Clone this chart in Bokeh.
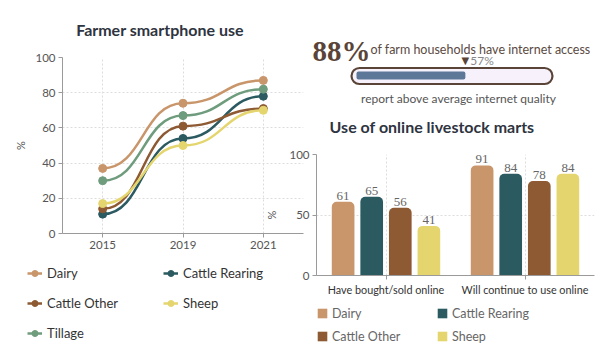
from bokeh.plotting import figure
from bokeh.models import (ColumnDataSource, Range1d, FactorRange, FixedTicker, Legend,
                          LegendItem, Label, LabelSet)
from bokeh.transform import dodge
from bokeh.embed import file_html
from bokeh.resources import INLINE

# ---------------- data ----------------
years = ["2015", "2019", "2021"]
dairy = [37, 74, 87]
cattle_rearing = [11, 54, 78]
cattle_other = [14, 61, 71]
sheep = [17, 50, 70]
tillage = [30, 67, 82]

bar_categories = ["Have bought/sold online", "Will continue to use online"]
bar_dairy = [61, 91]
bar_cattle_rearing = [65, 84]
bar_cattle_other = [56, 78]
bar_sheep = [41, 84]

internet_access = 88
above_avg_quality = 57

y_ticks_left = [0, 20, 40, 60, 80, 100]
y_ticks_bar = [0, 50, 100]

C_DAIRY = "#c9956a"
C_REAR = "#2b5a61"
C_OTHER = "#8d5a33"
C_SHEEP = "#e5d56f"
C_TILL = "#6e9c7c"

FONT = "Lato"
AXIS_C = "#9a9a9a"
TICK_TXT = "#555555"
GRID_C = "#dddddd"
TITLE_C = "#2e3440"
W, H = 614, 346


def place(fig, left, top):
    fig.styles = {"position": "absolute", "left": f"{left}px", "top": f"{top}px"}


def style_axes(fig):
    for ax in (fig.xaxis, fig.yaxis):
        ax.axis_line_color = AXIS_C
        ax.major_tick_line_color = AXIS_C
        ax.minor_tick_line_color = None
        ax.major_tick_in = 0
        ax.major_tick_out = 4
        ax.major_label_standoff = 3
        ax.major_label_text_font = FONT
        ax.major_label_text_font_size = "11.5px"
        ax.major_label_text_color = TICK_TXT
        ax.axis_label_text_font = FONT
        ax.axis_label_text_font_size = "11px"
        ax.axis_label_text_font_style = "normal"
        ax.axis_label_text_color = TICK_TXT
        ax.axis_label_standoff = 8
    for g in (fig.xgrid, fig.ygrid):
        g.grid_line_color = GRID_C
        g.grid_line_dash = "2 2"


# ---------------- left line chart ----------------
L_W, L_H = 307, 346
FL, FR, FT, FB = 62, 303, 57, 233          # frame edges in page pixels
n_years = len(years)
p1 = figure(width=L_W, height=L_H, x_range=Range1d(0, n_years), y_range=Range1d(0, 100),
            min_border_left=FL, min_border_right=L_W - FR, min_border_top=FT,
            min_border_bottom=L_H - FB, toolbar_location=None, output_backend="svg",
            outline_line_color=None, title=None)
place(p1, 0, 0)

xs = [i + 0.5 for i in range(n_years)]
series = [("Dairy", dairy, C_DAIRY), ("Cattle Rearing", cattle_rearing, C_REAR),
          ("Cattle Other", cattle_other, C_OTHER), ("Sheep", sheep, C_SHEEP),
          ("Tillage", tillage, C_TILL)]
for name, vals, col in series:
    mids = [(a + b) / 2 for a, b in zip(xs[:-1], xs[1:])]
    seg = ColumnDataSource(dict(x0=xs[:-1], y0=vals[:-1], x1=xs[1:], y1=vals[1:],
                                cx0=mids, cy0=vals[:-1], cx1=mids, cy1=vals[1:]))
    p1.bezier(x0="x0", y0="y0", x1="x1", y1="y1", cx0="cx0", cy0="cy0",
              cx1="cx1", cy1="cy1", source=seg, line_color=col, line_width=2.5)
    p1.scatter(xs, vals, size=8, fill_color=col, line_color=col)

p1.xaxis.ticker = FixedTicker(ticks=xs)
p1.xaxis.major_label_overrides = {x: y for x, y in zip(xs, years)}
p1.yaxis.ticker = FixedTicker(ticks=y_ticks_left)
p1.yaxis.axis_label = "%"
style_axes(p1)
p1.yaxis.axis_label_standoff = 5
p1.xgrid.ticker = FixedTicker(ticks=xs)
p1.ygrid.ticker = FixedTicker(ticks=y_ticks_left)

# ---------------- bar chart ----------------
B_X0, B_Y0 = 262, 108
B_W, B_H = W - B_X0, H - B_Y0
BFL, BFR, BFT, BFB = 312, 594, 154, 275
p3 = figure(width=B_W, height=B_H, x_range=FactorRange(*bar_categories, range_padding=0),
            y_range=Range1d(0, 100), min_border_left=BFL - B_X0, min_border_right=W - BFR,
            min_border_top=BFT - B_Y0, min_border_bottom=H - BFB, toolbar_location=None,
            output_backend="svg", outline_line_color=None, title=None,
            background_fill_color=None, border_fill_color=None)
place(p3, B_X0, B_Y0)
sx3 = (BFR - BFL) / len(bar_categories)
bsrc = ColumnDataSource(dict(cat=bar_categories, dairy=bar_dairy, rear=bar_cattle_rearing,
                             other=bar_cattle_other, sheep=bar_sheep,
                             dairy_t=[str(v) for v in bar_dairy],
                             rear_t=[str(v) for v in bar_cattle_rearing],
                             other_t=[str(v) for v in bar_cattle_other],
                             sheep_t=[str(v) for v in bar_sheep]))
bar_series = [("Dairy", "dairy", C_DAIRY), ("Cattle Rearing", "rear", C_REAR),
              ("Cattle Other", "other", C_OTHER), ("Sheep", "sheep", C_SHEEP)]
step = 29 / sx3
bw = 23 / sx3
for i, (name, fld, col) in enumerate(bar_series):
    off = (i - 1.5) * step
    p3.vbar(x=dodge("cat", off, range=p3.x_range), top=fld, width=bw, source=bsrc,
            fill_color=col, line_color=None, border_radius=(5, 5, 0, 0))
    p3.add_layout(LabelSet(x=dodge("cat", off, range=p3.x_range), y=fld, text=fld + "_t",
                           source=bsrc, y_offset=2, text_align="center",
                           text_baseline="bottom", text_font=FONT, text_font_size="13px",
                           text_color="#666666"))

p3.yaxis.ticker = FixedTicker(ticks=y_ticks_bar)
p3.yaxis.axis_label = "%"
style_axes(p3)
p3.xaxis.major_label_text_font_size = "10.8px"
p3.xaxis.major_label_text_color = "#333333"
p3.ygrid.ticker = FixedTicker(ticks=y_ticks_bar)

# ---------------- overlay: titles, info panel, legends ----------------
ov = figure(width=W, height=H, x_range=Range1d(0, W), y_range=Range1d(H, 0),
            x_axis_type=None, y_axis_type=None, min_border=0, toolbar_location=None,
            output_backend="svg", title=None, outline_line_color=None,
            background_fill_color=None, border_fill_color=None)
place(ov, 0, 0)

ov.add_layout(Label(x=159.5, y=29, text="Farmer smartphone use", text_font=FONT,
                    text_font_size="16px", text_font_style="bold", text_color=TITLE_C,
                    text_align="center", text_baseline="middle"))
ov.add_layout(Label(x=431.5, y=126, text="Use of online livestock marts", text_font=FONT,
                    text_font_size="16px", text_font_style="bold", text_color=TITLE_C,
                    text_align="center", text_baseline="middle"))

# internet access panel
TRACK_L, TRACK_R = 356, 547
tw = (TRACK_R - TRACK_L) / 100.0
ov.extra_x_ranges = {"pct": Range1d(start=-TRACK_L / tw, end=(W - TRACK_L) / tw)}
pad = 5 / tw
ov.quad(left=[0 - pad], right=[100 + pad], top=[67.5], bottom=[83.5], x_range_name="pct",
        fill_color="#f6f1fb", line_color="#5a4438", line_width=2.2, border_radius=8)
ov.quad(left=[0], right=[above_avg_quality], top=[71], bottom=[79], x_range_name="pct",
        fill_color="#5d7798", line_color=None, border_radius=2)
ov.add_layout(Label(x=312, y=50, text=f"{internet_access}%", text_font="Liberation Serif",
                    text_font_size="29px", text_font_style="bold", text_color="#5a4438",
                    text_baseline="alphabetic"))
ov.add_layout(Label(x=370, y=49, text="of farm households have internet access",
                    text_font=FONT, text_font_size="12.5px", text_color="#5b4a42",
                    text_baseline="alphabetic"))
ov.add_layout(Label(x=above_avg_quality, y=59.5, x_range_name="pct", text="\u25bc",
                    text_font="DejaVu Sans", text_font_size="10px", text_color="#5a4438",
                    text_align="center", text_baseline="middle"))
ov.add_layout(Label(x=above_avg_quality, y=59.5, x_offset=5, x_range_name="pct",
                    text=f"{above_avg_quality}%", text_font=FONT, text_font_size="12px",
                    text_color="#888888", text_align="left", text_baseline="middle"))
ov.add_layout(Label(x=458, y=98, text="report above average internet quality",
                    text_font=FONT, text_font_size="12px", text_color="#555555",
                    text_align="center", text_baseline="middle"))

# legend proxies (same series, not drawn; only used for the legend swatches)
line_items = {}
for name, vals, col in series:
    rl = ov.line(xs, vals, line_color=col, line_width=2.5, visible=False)
    rs = ov.scatter(xs, vals, size=8, fill_color=col, line_color=col, visible=False)
    line_items[name] = [rl, rs]
bar_items = {}
for name, fld, col in bar_series:
    rb = ov.vbar(x=[0, 1], top=bsrc.data[fld], width=1, fill_color=col, line_color=None,
                 border_radius=2, visible=False)
    bar_items[name] = [rb]


def legend(names, rmap, x_left, y_bottom, **kw):
    return Legend(items=[LegendItem(label=n, renderers=rmap[n]) for n in names],
                  location=(x_left, H - y_bottom), orientation="vertical", padding=0,
                  margin=0, border_line_color=None, background_fill_alpha=0,
                  inactive_fill_alpha=0, label_text_font=FONT, **kw)


lkw = dict(glyph_width=15, glyph_height=20, label_height=20, label_standoff=5, spacing=10,
           label_text_font_size="13px", label_text_color="#333333")
ov.add_layout(legend(["Dairy", "Cattle Other", "Tillage"], line_items, 27, 343, **lkw))
ov.add_layout(legend(["Cattle Rearing", "Sheep"], line_items, 163, 313, **lkw))
bkw = dict(glyph_width=12, glyph_height=12, label_height=16, label_standoff=4, spacing=7,
           label_text_font_size="12.5px", label_text_color="#666666")
ov.add_layout(legend(["Dairy", "Cattle Other"], bar_items, 316, 344, **bkw))
ov.add_layout(legend(["Cattle Rearing", "Sheep"], bar_items, 436, 344, **bkw))

open("out.html", "w").write(file_html((p1, p3, ov), INLINE))
